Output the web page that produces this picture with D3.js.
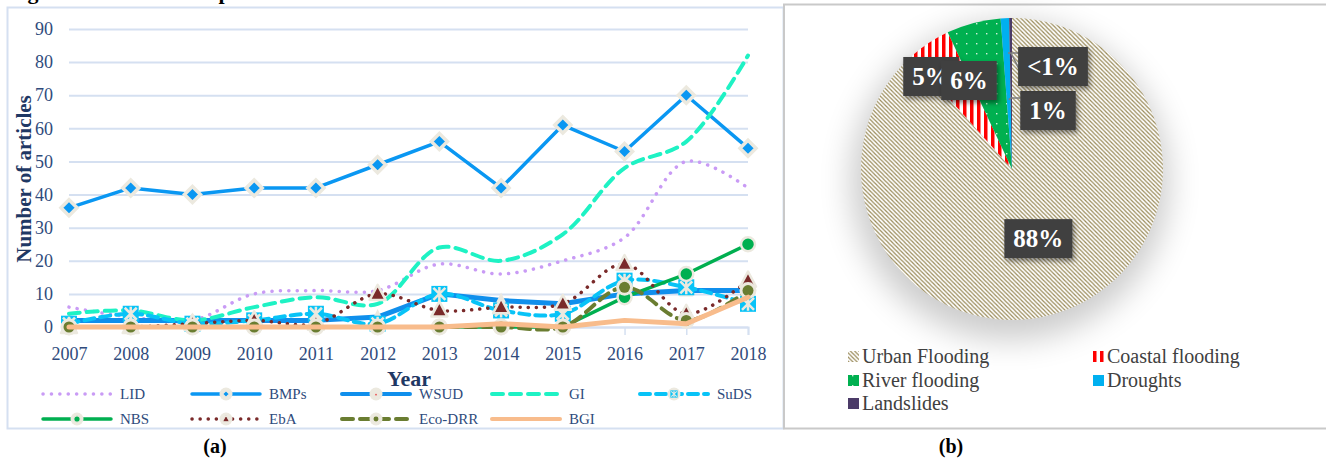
<!DOCTYPE html>
<html>
<head>
<meta charset="utf-8">
<script src="https://cdn.jsdelivr.net/npm/d3@7"></script>
<style>
  body { margin: 0; background: #fff; }
</style>
</head>
<body>
<svg id="fig" width="1326" height="459"></svg>
<script>
// ---- data (a): number of articles per year
var years = [2007, 2008, 2009, 2010, 2011, 2012, 2013, 2014, 2015, 2016, 2017, 2018];
var lid    = [6, 3, 2, 10, 11, 11, 19, 16, 20, 27, 50, 42];
var bmps   = [36, 42, 40, 42, 42, 49, 56, 42, 61, 53, 70, 54];
var wsud   = [2, 2, 2, 2, 2, 3, 10, 8, 7, 10, 11, 11];
var gi     = [4, 5, 2, 6, 9, 7, 24, 20, 28, 48, 56, 82];
var suds   = [1, 4, 1, 2, 4, 1, 10, 5, 4, 14, 12, 7];
var nbs    = [0, 0, 0, 0, 0, 0, 0, 0, 0, 9, 16, 25];
var eba    = [0, 0, 1, 2, 1, 10, 5, 6, 7, 19, 4, 14];
var ecoDrr = [0, 0, 0, 0, 0, 0, 0, 0, 0, 12, 2, 11];
var bgi    = [0, 0, 0, 0, 0, 0, 0, 1, 0, 2, 1, 9];
var seriesNames = ["LID", "BMPs", "WSUD", "GI", "SuDS", "NBS", "EbA", "Eco-DRR", "BGI"];
var seriesValues = [lid, bmps, wsud, gi, suds, nbs, eba, ecoDrr, bgi];
var yTicks = [0, 10, 20, 30, 40, 50, 60, 70, 80, 90];

// ---- data (b): share of hazards
var hazards = ["Urban Flooding", "Coastal flooding", "River flooding", "Droughts", "Landslides"];
var hazardShare = [88.4, 4.6, 5.8, 0.9, 0.3];
var hazardLabels = ["88%", "5%", "6%", "1%", "<1%"];

var serif = '"Liberation Serif", "Times New Roman", "DejaVu Serif", serif';
var svg = d3.select("#fig");
var beige = "#ECE9DF";
var axisBlue = "#2F4B7C";

// line styles per series
var styles = {
  "LID":     {color: "#C99BF5", width: 3.5, dash: "0.1 8.3", curve: true, marker: null},
  "BMPs":    {color: "#0A97F2", width: 3.5, dash: null, curve: false, marker: "diamond"},
  "WSUD":    {color: "#108FEC", width: 5, dash: null, curve: false, marker: "smallTri"},
  "GI":      {color: "#1EF2C4", width: 4, dash: "11 7", curve: true, marker: null},
  "SuDS":    {color: "#08C3F7", width: 4, dash: "10 6", curve: true, marker: "square"},
  "NBS":     {color: "#00AF50", width: 3.5, dash: null, curve: false, marker: "circle"},
  "EbA":     {color: "#7A2A2A", width: 3.5, dash: "0.1 8", curve: true, marker: "triangle"},
  "Eco-DRR": {color: "#6A7D31", width: 4, dash: "11 7", curve: true, marker: "blob"},
  "BGI":     {color: "#F8BC8C", width: 5, dash: null, curve: false, marker: null}
};

var defs = svg.append("defs");

// title, mostly cut off at the top
svg.append("text").attr("x", 8).attr("y", -1)
  .attr("font-size", 22).attr("font-weight", "bold").attr("fill", "#000")
  .text("Figure 5. Research map");

// panel borders
svg.append("rect").attr("x", 7.5).attr("y", 7.5).attr("width", 776).attr("height", 421)
  .attr("fill", "#fff").attr("stroke", "#D5E0F1").attr("stroke-width", 2);
svg.append("rect").attr("x", 784).attr("y", 4.5).attr("width", 560).attr("height", 424)
  .attr("fill", "#fff").attr("stroke", "#C9C9C9").attr("stroke-width", 2);

// ================= panel (a) =================
var x = d3.scalePoint().domain(years).range([69, 748]);
var y = d3.scaleLinear().domain([0, 90]).range([327, 29]);

var gA = svg.append("g");

// grid + y axis
var yAxis = gA.append("g").attr("transform", "translate(69,0)")
  .call(d3.axisLeft(y).tickValues(yTicks).tickSize(-679).tickPadding(16));
yAxis.select(".domain").remove();
yAxis.selectAll("line").attr("stroke", "#D5E0F1").attr("stroke-width", 2);
yAxis.selectAll("text").attr("font-size", 18).attr("fill", axisBlue);

// x axis
var xAxis = gA.append("g").attr("transform", "translate(0,327)")
  .call(d3.axisBottom(x).tickSize(8).tickPadding(12));
xAxis.select(".domain").attr("stroke", "#D5E0F1").attr("stroke-width", 2);
xAxis.selectAll("line").attr("stroke", "#D5E0F1").attr("stroke-width", 1.5);
xAxis.selectAll("text").attr("font-size", 18).attr("fill", axisBlue);

gA.append("text").attr("transform", "translate(31,179) rotate(-90)")
  .attr("text-anchor", "middle").attr("font-size", 21).attr("font-weight", "bold")
  .attr("fill", "#1F3864").text("Number of articles");
gA.append("text").attr("x", 409).attr("y", 386)
  .attr("text-anchor", "middle").attr("font-size", 22).attr("font-weight", "bold")
  .attr("fill", "#1F3864").text("Year");

function drawMarker(sel, kind, color, k) {
  var m = sel.append("g").attr("transform", "scale(" + (k || 1) + ")");
  if (kind === "diamond") {
    m.append("path").attr("d", "M0,-8L8,0L0,8L-8,0Z")
      .attr("fill", color).attr("stroke", beige).attr("stroke-width", 3.5);
  } else if (kind === "square") {
    m.append("rect").attr("x", -8).attr("y", -8).attr("width", 16).attr("height", 16)
      .attr("fill", color);
    m.append("path").attr("d", "M-6,-6L6,6M6,-6L-6,6M0,-7L0,7")
      .attr("stroke", beige).attr("stroke-width", 2.5);
  } else if (kind === "circle") {
    m.append("circle").attr("r", 7).attr("fill", color)
      .attr("stroke", beige).attr("stroke-width", 2.5);
  } else if (kind === "triangle") {
    m.append("path").attr("d", "M0,-9L8,6L-8,6Z")
      .attr("fill", color).attr("stroke", beige).attr("stroke-width", 2.5)
      .attr("stroke-linejoin", "round");
  } else if (kind === "smallTri") {
    m.append("path").attr("d", "M0,-8L7,6L-7,6Z").attr("fill", beige);
    m.append("path").attr("d", "M0,-1L2.5,3L-2.5,3Z").attr("fill", "#E8262B");
  } else if (kind === "blob") {
    m.append("circle").attr("r", 8.5).attr("fill", beige);
    m.append("circle").attr("r", 5.5).attr("fill", color);
  }
}

var lineStraight = d3.line().x(function (d, i) { return x(years[i]); }).y(function (d) { return y(d); });
var lineSmooth = d3.line().x(function (d, i) { return x(years[i]); }).y(function (d) { return y(d); })
  .curve(d3.curveCatmullRom.alpha(0.5));

seriesNames.forEach(function (name, si) {
  var st = styles[name];
  var vals = seriesValues[si];
  var g = gA.append("g").attr("class", "series");
  g.append("path").datum(vals)
    .attr("d", st.curve ? lineSmooth : lineStraight)
    .attr("fill", "none").attr("stroke", st.color).attr("stroke-width", st.width)
    .attr("stroke-linecap", "round").attr("stroke-linejoin", "round")
    .attr("stroke-dasharray", st.dash);
  if (st.marker) {
    g.selectAll("g.pt").data(vals).enter().append("g")
      .attr("class", "pt")
      .attr("transform", function (d, i) { return "translate(" + x(years[i]) + "," + y(d) + ")"; })
      .each(function () { drawMarker(d3.select(this), st.marker, st.color, 1); });
  }
});

// legend (a)
var legCols = [43, 192, 342, 492, 640];
var legRows = [394, 419];
seriesNames.forEach(function (name, i) {
  var st = styles[name];
  var lx = legCols[i % 5], ly = legRows[Math.floor(i / 5)];
  var g = gA.append("g").attr("transform", "translate(" + lx + "," + ly + ")");
  g.append("line").attr("x1", 0).attr("x2", 68).attr("y1", 0).attr("y2", 0)
    .attr("stroke", st.color).attr("stroke-width", Math.min(st.width, 4))
    .attr("stroke-linecap", "round").attr("stroke-dasharray", st.dash);
  if (st.marker) {
    var mg = g.append("g").attr("transform", "translate(34,0)");
    mg.append("circle").attr("r", 6.5).attr("fill", beige);
    drawMarker(mg, st.marker, st.color, 0.45);
  }
  g.append("text").attr("x", 77).attr("y", 5).attr("font-size", 15)
    .attr("fill", axisBlue).text(name);
});

svg.append("text").attr("x", 215).attr("y", 453).attr("text-anchor", "middle")
  .attr("font-size", 20).attr("font-weight", "bold").text("(a)");

// ================= panel (b) =================
// patterns
var pUrban = defs.append("pattern").attr("id", "pUrban").attr("patternUnits", "userSpaceOnUse")
  .attr("width", 4.2).attr("height", 4.2);
pUrban.append("rect").attr("width", 4.2).attr("height", 4.2).attr("fill", "#fff");
pUrban.append("path").attr("d", "M-1,-1L5.2,5.2M-1,3.2L1,5.2M3.2,-1L5.2,1")
  .attr("stroke", "#9A8B5A").attr("stroke-width", 1.2);

var pCoast = defs.append("pattern").attr("id", "pCoast").attr("patternUnits", "userSpaceOnUse")
  .attr("width", 7).attr("height", 7);
pCoast.append("rect").attr("width", 7).attr("height", 7).attr("fill", "#fff");
pCoast.append("rect").attr("width", 3.5).attr("height", 7).attr("fill", "#FF0000");

var pRiver = defs.append("pattern").attr("id", "pRiver").attr("patternUnits", "userSpaceOnUse")
  .attr("width", 10).attr("height", 10);
pRiver.append("rect").attr("width", 10).attr("height", 10).attr("fill", "#00B050");
pRiver.append("rect").attr("x", 4).attr("y", 4).attr("width", 1.4).attr("height", 1.4).attr("fill", "#CFEFD9");

var hazardFill = ["url(#pUrban)", "url(#pCoast)", "url(#pRiver)", "#00B0F0", "#4B3B68"];

var blur = defs.append("filter").attr("id", "halo").attr("x", "-50%").attr("y", "-50%")
  .attr("width", "200%").attr("height", "200%");
blur.append("feGaussianBlur").attr("stdDeviation", 16);

var boxShadow = defs.append("filter").attr("id", "boxShadow").attr("x", "-30%").attr("y", "-30%")
  .attr("width", "160%").attr("height", "160%");
boxShadow.append("feDropShadow").attr("dx", 2).attr("dy", 3).attr("stdDeviation", 2.5)
  .attr("flood-color", "#000").attr("flood-opacity", 0.45);

var cx = 1012, cy = 169, r = 151;
var gB = svg.append("g").attr("transform", "translate(" + cx + "," + cy + ")");

gB.append("circle").attr("r", r + 8).attr("cx", -2).attr("cy", 12)
  .attr("fill", "#000").attr("opacity", 0.2).attr("filter", "url(#halo)");

var pie = d3.pie().sort(null).value(function (d) { return d; });
var arcs = pie(hazardShare);
var arc = d3.arc().innerRadius(0).outerRadius(r);

gB.selectAll("path.slice").data(arcs).enter().append("path")
  .attr("class", "slice")
  .attr("d", arc)
  .attr("fill", function (d, i) { return hazardFill[i]; });

// data labels (Excel "best fit" style placement)
function polar(a, rr) { return [Math.sin(a) * rr, -Math.cos(a) * rr]; }
var labelPos = arcs.map(function (d, i) {
  var mid = (d.startAngle + d.endAngle) / 2;
  if (i === 0) return polar(mid, r * 0.49);
  if (i === 1) return [-81, -93];
  if (i === 2) return [-43, -89];
  if (i === 3) return [36, -59];
  return [41, -103];
});

// leader lines for the two tiny slices
var tipDrought = polar((arcs[3].startAngle + arcs[3].endAngle) / 2, r * 0.46);
var tipSlide = polar((arcs[4].startAngle + arcs[4].endAngle) / 2, r * 0.77);
gB.append("path").attr("d", "M" + tipSlide[0] + "," + tipSlide[1] + "L8,-98M-4,-116L8,-116")
  .attr("fill", "none").attr("stroke", "#7F7F7F").attr("stroke-width", 1.5);
gB.append("path").attr("d", "M" + tipDrought[0] + "," + tipDrought[1] + "L-1,-71L8,-71")
  .attr("fill", "none").attr("stroke", "#7F7F7F").attr("stroke-width", 1.5);

var lab = gB.selectAll("g.lab").data(arcs).enter().append("g").attr("class", "lab")
  .attr("transform", function (d, i) { return "translate(" + labelPos[i][0] + "," + labelPos[i][1] + ")"; });
lab.append("text").attr("text-anchor", "middle").attr("y", 9)
  .attr("font-size", 25).attr("font-weight", "bold").attr("fill", "#fff")
  .style("font-family", serif)
  .text(function (d, i) { return hazardLabels[i]; })
  .each(function () {
    var bb = this.getBBox();
    d3.select(this.parentNode).insert("rect", "text")
      .attr("x", bb.x - 9).attr("y", -19).attr("width", bb.width + 18).attr("height", 39)
      .attr("fill", "#404040").attr("filter", "url(#boxShadow)");
  });

// legend (b)
var hzCols = [848, 1093];
var hzRows = [357, 381, 404];
hazards.forEach(function (name, i) {
  var lx = hzCols[i % 2], ly = hzRows[Math.floor(i / 2)];
  var g = svg.append("g").attr("transform", "translate(" + lx + "," + ly + ")");
  g.append("rect").attr("x", 0).attr("y", -6).attr("width", 11).attr("height", 11)
    .attr("fill", hazardFill[i]);
  g.append("text").attr("x", 14).attr("y", 6).attr("font-size", 20)
    .attr("fill", "#404040").text(name);
});

svg.append("text").attr("x", 951).attr("y", 453).attr("text-anchor", "middle")
  .attr("font-size", 20).attr("font-weight", "bold").text("(b)");

// every text in Times-like serif
svg.selectAll("text").style("font-family", serif);
</script>
</body>
</html>
